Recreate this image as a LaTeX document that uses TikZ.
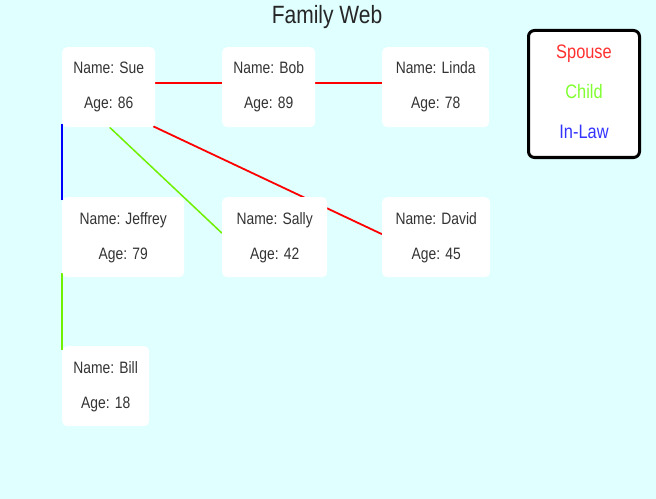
\documentclass[tikz,border=0pt]{standalone}
\usepackage{fontspec}
\setmainfont[FakeStretch=0.84]{Liberation Sans}
\usetikzlibrary{backgrounds}
\definecolor{bgc}{HTML}{E0FFFF}
\definecolor{txt}{HTML}{333333}
\definecolor{lred}{HTML}{FF0000}
\definecolor{lgreen}{HTML}{70F000}
\definecolor{lblue}{HTML}{0000FF}
\definecolor{tred}{HTML}{FF3030}
\definecolor{tgreen}{HTML}{80FF30}
\definecolor{tblue}{HTML}{3333FF}
\tikzset{
  card/.style={anchor=north west, fill=white, draw=none, rounded corners=5bp, inner sep=0pt, minimum height=80bp},
  nm/.style={anchor=base, text=txt, inner sep=0pt, font=\fontsize{16.5bp}{18bp}\selectfont},
  leg/.style={anchor=base, inner sep=0pt, font=\fontsize{19.5bp}{22bp}\selectfont},
  spouse/.style={draw=lred, line width=1.8bp},
  child/.style={draw=lgreen, line width=1.5bp},
  inlaw/.style={draw=lblue, line width=2bp}
}
\begin{document}
\begin{tikzpicture}[x=1bp,y=-1bp]
\useasboundingbox (0,0) rectangle (656,499);
% title
\node[anchor=base, inner sep=0pt, text=black!85, font=\fontsize{25bp}{28bp}\selectfont] (title) at (327,24) {Family Web};
% cards
\node[card, minimum width=93bp] (sue) at (62,47) {};
\node[card, minimum width=93bp] (bob) at (222,47) {};
\node[card, minimum width=107bp] (linda) at (382,47) {};
\node[card, minimum width=122bp] (jeffrey) at (62,197) {};
\node[card, minimum width=105bp] (sally) at (222,197) {};
\node[card, minimum width=108bp] (david) at (382,197) {};
\node[card, minimum width=87bp] (bill) at (62,346) {};
% texts
\foreach \n/\name/\age in {sue/Sue/86, bob/Bob/89, linda/Linda/78, jeffrey/Jeffrey/79, sally/Sally/42, david/David/45, bill/Bill/18}{
  \node[nm] (\n-name) at ([yshift=-27bp]\n.north) {Name: \name};
  \node[nm] (\n-age) at ([yshift=-62bp]\n.north) {Age: \age};
}
% legend
\node[anchor=north west, fill=white, draw=black, line width=3bp, rounded corners=6bp, minimum width=111bp, minimum height=127bp, inner sep=0pt, outer sep=0pt] (legend) at (528.5,30.5) {};
\node[leg, text=tred] (lspouse) at (584,59) {Spouse};
\node[leg, text=tgreen] (lchild) at (584,99) {Child};
\node[leg, text=tblue] (linlaw) at (584,139) {In-Law};
\begin{pgfonlayer}{background}
\fill[bgc] (0,0) rectangle (656,499);
\draw[spouse] ([yshift=4bp]sue.east) -- ([yshift=4bp]bob.west);
\draw[spouse] ([yshift=4bp]bob.east) -- ([yshift=4bp]linda.west);
\draw[spouse] ([xshift=-2bp,yshift=1bp]sue.south east) -- ([yshift=3bp]david.west);
\draw[child] ([xshift=1bp]sue.south) -- ([yshift=4bp]sally.west);
\draw[inlaw] ([yshift=3bp]sue.south west) -- ([yshift=-3bp]jeffrey.north west);
\draw[child] ([yshift=4bp]jeffrey.south west) -- ([yshift=-4bp]bill.north west);
\end{pgfonlayer}
\end{tikzpicture}
\end{document}
